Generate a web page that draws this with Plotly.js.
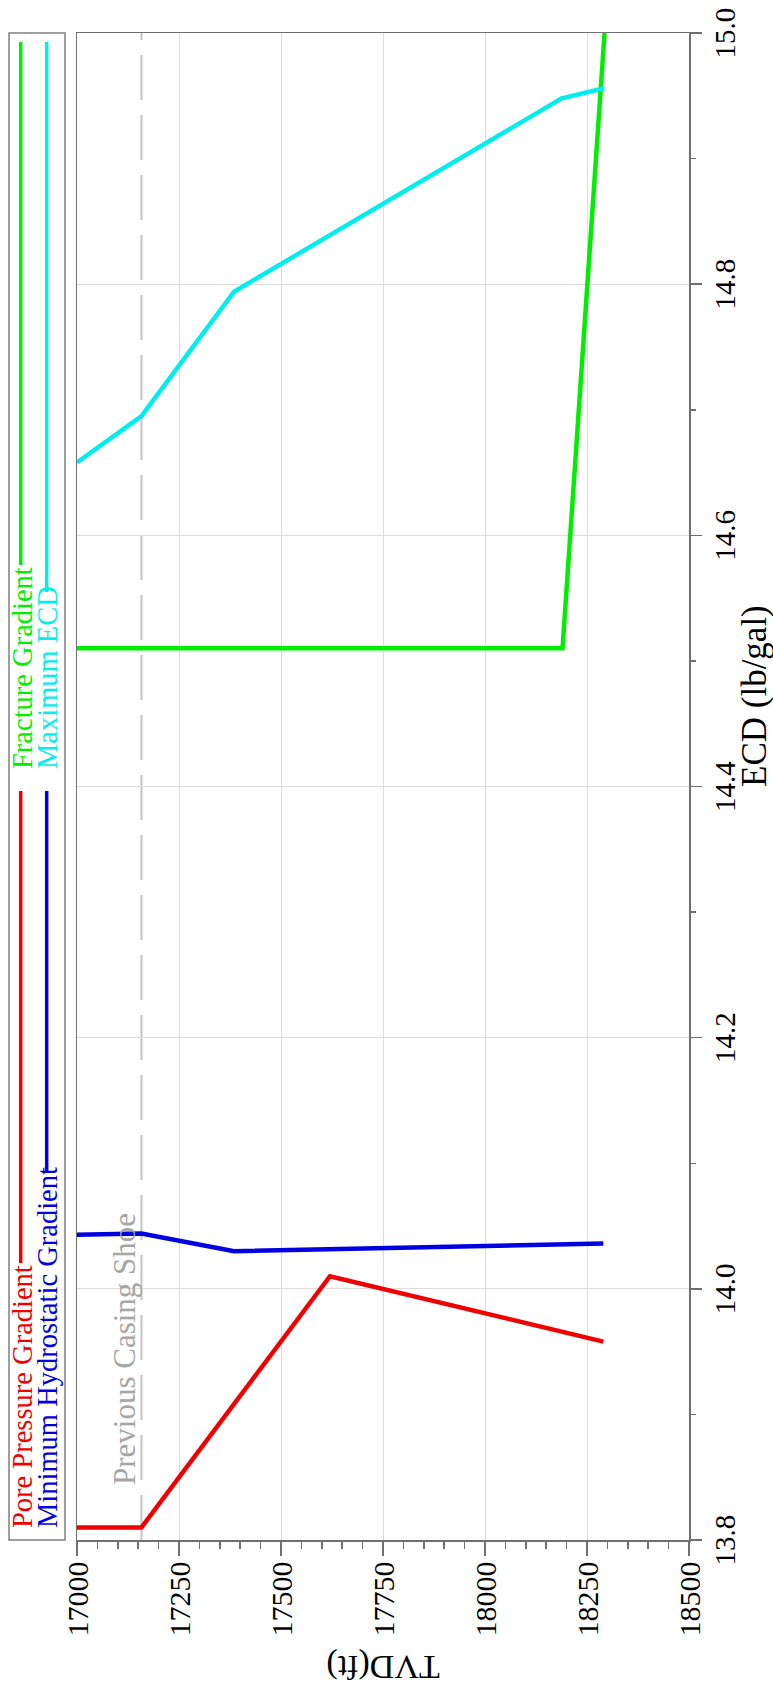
<!DOCTYPE html>
<html>
<head>
<meta charset="utf-8">
<script src="https://cdn.plot.ly/plotly-3.0.1.min.js"></script>
<style>
  html, body { margin: 0; padding: 0; background: #ffffff; overflow: hidden; }
  #wrap { position: absolute; left: 0; top: 0; width: 773px; height: 1696px; overflow: hidden; background: #fff; }
  #plot { position: absolute; left: 0; top: 0; width: 1696px; height: 773px;
          transform-origin: 0 0; transform: translate(0px, 1696px) rotate(-90deg); }
</style>
</head>
<body>
<div id="wrap"><div id="plot"></div></div>
<script>
// ---------------- data ----------------
const seriesNames = ["Pore Pressure Gradient", "Minimum Hydrostatic Gradient", "Fracture Gradient", "Maximum ECD"];
const seriesColors = ["#f00000", "#0000e0", "#00ee00", "#00eeee"];

const tvdPore   = [17000, 17158, 17620, 18290];
const ecdPore   = [13.81, 13.81, 14.01, 13.958];

const tvdMinHyd = [17000, 17158, 17385, 18290];
const ecdMinHyd = [14.043, 14.044, 14.030, 14.036];

const tvdFrac   = [17000, 18190, 18293];
const ecdFrac   = [14.51, 14.51, 15.0];

const tvdMaxEcd = [17000, 17158, 17385, 18188, 18292];
const ecdMaxEcd = [14.658, 14.695, 14.794, 14.948, 14.956];

const casingShoeTVD = [17158];
const casingShoeLabel = "Previous Casing Shoe";

const ecdRange = [13.8, 15.0];
const tvdRange = [18500, 17000];
const ecdTicks = [13.8, 14.0, 14.2, 14.4, 14.6, 14.8, 15.0];
const ecdTickText = ["13.8", "14.0", "14.2", "14.4", "14.6", "14.8", "15.0"];
const tvdTicks = [17000, 17250, 17500, 17750, 18000, 18250, 18500];
const tvdTickText = ["17000", "17250", "17500", "17750", "18000", "18250", "18500"];

const xTitle = "ECD (lb/gal)";
const yTitle = "TVD(ft)";

// ---------------- layout constants ----------------
const W = 1696, H = 773;
const M = {l: 156, r: 33, t: 77, b: 84};
const PW = W - M.l - M.r, PH = H - M.t - M.b;
const px = xo => (xo - M.l) / PW;
const py = yo => (H - M.b - yo) / PH;
const FONT = "Liberation Serif, Times New Roman, serif";

const xs = [ecdPore, ecdMinHyd, ecdFrac, ecdMaxEcd];
const ys = [tvdPore, tvdMinHyd, tvdFrac, tvdMaxEcd];

const traces = seriesNames.map((n, i) => ({
  type: "scatter", mode: "lines", name: n,
  x: xs[i], y: ys[i],
  line: {color: seriesColors[i], width: 4.5},
  showlegend: false, hoverinfo: "skip"
}));

// custom legend (text followed by long line), two rows x two columns
const legendRows = [22.7, 48];
const legendLineY = [20.7, 46.7];
const legendSpec = [
  {i: 0, row: 0, tx: 166, l0: 433, l1: 905},
  {i: 1, row: 1, tx: 166, l0: 524, l1: 905},
  {i: 2, row: 0, tx: 925, l0: 1131, l1: 1654},
  {i: 3, row: 1, tx: 925, l0: 1104, l1: 1654}
];

const shapes = [
  {type: "rect", xref: "paper", yref: "paper", x0: px(156), x1: px(1663), y0: py(65), y1: py(9),
   line: {color: "#808080", width: 1.5}, fillcolor: "rgba(0,0,0,0)"},
  {type: "line", xref: "paper", yref: "y", x0: 0, x1: 1, y0: casingShoeTVD[0], y1: casingShoeTVD[0],
   line: {color: "#c4c4c4", width: 2, dash: "45px,15px"}, layer: "below"}
];
const annotations = [];
legendSpec.forEach(s => {
  shapes.push({type: "line", xref: "paper", yref: "paper",
    x0: px(s.l0), x1: px(s.l1), y0: py(legendLineY[s.row]), y1: py(legendLineY[s.row]),
    line: {color: seriesColors[s.i], width: 3.5}});
  annotations.push({xref: "paper", yref: "paper", x: px(s.tx), y: py(legendRows[s.row]),
    xanchor: "left", yanchor: "middle", showarrow: false, text: seriesNames[s.i],
    font: {family: FONT, size: 28.5, color: seriesColors[s.i]}});
});
annotations.push({xref: "x", yref: "y", x: ecdRange[0], y: casingShoeTVD[0], xanchor: "left", yanchor: "bottom",
  xshift: 53, yshift: -3, showarrow: false, text: casingShoeLabel,
  font: {family: FONT, size: 31, color: "#a6a6a6"}});
// x-axis title (placed where the reference draws it)
annotations.push({xref: "paper", yref: "paper", x: px(1000), y: py(754.5), xanchor: "center", yanchor: "middle",
  showarrow: false, text: xTitle, font: {family: FONT, size: 35, color: "#000"}});

const layout = {
  width: W, height: H,
  margin: M,
  paper_bgcolor: "#ffffff", plot_bgcolor: "#ffffff",
  showlegend: false,
  font: {family: FONT, color: "#000"},
  xaxis: {
    range: ecdRange, tickmode: "array", tickvals: ecdTicks, ticktext: ecdTickText,
    ticks: "outside", ticklen: 11, tickwidth: 1.5, tickcolor: "#707070",
    showline: true, linecolor: "#707070", linewidth: 1.5, mirror: true,
    showgrid: true, gridcolor: "#dcdcdc", gridwidth: 1, zeroline: false,
    tickfont: {family: FONT, size: 29, color: "#000"},
    ticklabelstandoff: -1,
    minor: {dtick: 0.1, tick0: 13.8, ticks: "outside", ticklen: 5, tickwidth: 1.5, tickcolor: "#707070", showgrid: false},
    automargin: false
  },
  yaxis: {
    range: tvdRange, tickmode: "array", tickvals: tvdTicks, ticktext: tvdTickText,
    ticks: "outside", ticklen: 14, tickwidth: 1.5, tickcolor: "#707070",
    showline: true, linecolor: "#707070", linewidth: 1.5, mirror: true,
    showgrid: true, gridcolor: "#dcdcdc", gridwidth: 1, zeroline: false,
    tickfont: {family: FONT, size: 30, color: "#000"},
    minor: {dtick: 50, tick0: 17000, ticks: "outside", ticklen: 7, tickwidth: 1.5, tickcolor: "#707070", showgrid: false},
    title: {text: yTitle, font: {family: FONT, size: 34, color: "#000"}, standoff: 8},
    automargin: false
  },
  shapes: shapes,
  annotations: annotations
};

Plotly.newPlot("plot", traces, layout, {displayModeBar: false, staticPlot: true});
</script>
</body>
</html>
